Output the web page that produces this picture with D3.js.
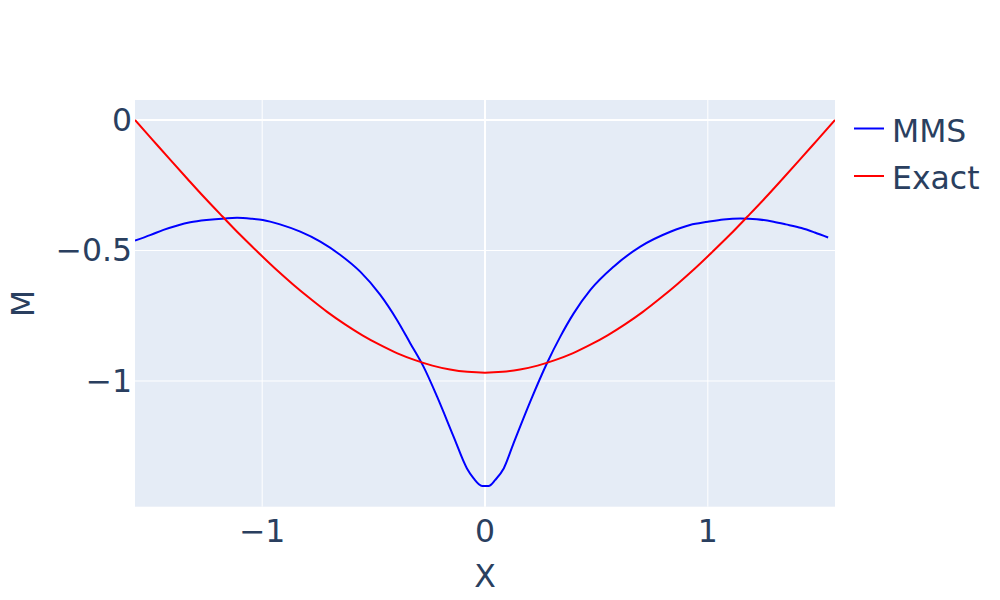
<!DOCTYPE html>
<html>
<head>
<meta charset="utf-8">
<script src="https://cdn.jsdelivr.net/npm/d3@7"></script>
<style>
  body { margin: 0; background: #fff; }
  text { font-family: "DejaVu Sans", Verdana, sans-serif; fill: #2a3f5f; }
</style>
</head>
<body>
<svg id="chart" width="1000" height="600"></svg>
<script>
// values
var mmsX = [-1.571, -1.50, -1.443, -1.38, -1.323, -1.25, -1.165, -1.113, -1.05, -0.997,
            -0.92, -0.829, -0.739, -0.649, -0.56, -0.47, -0.395, -0.335, -0.276, -0.215,
            -0.141, -0.081, -0.051, -0.013, 0.016, 0.046, 0.084, 0.128, 0.203, 0.278,
            0.338, 0.398, 0.473, 0.577, 0.697, 0.832, 0.92, 1.0, 1.07, 1.146,
            1.22, 1.295, 1.35, 1.42, 1.48, 1.540];
var mmsY = [-0.462, -0.440, -0.421, -0.404, -0.392, -0.383, -0.377, -0.375, -0.378, -0.383,
            -0.400, -0.428, -0.466, -0.517, -0.581, -0.670, -0.766, -0.856, -0.945, -1.060,
            -1.213, -1.335, -1.373, -1.402, -1.402, -1.379, -1.335, -1.239, -1.079, -0.932,
            -0.830, -0.741, -0.651, -0.562, -0.485, -0.428, -0.402, -0.390, -0.381, -0.377,
            -0.380, -0.390, -0.400, -0.414, -0.431, -0.450];

var exactX = [-1.571, -1.492, -1.414, -1.335, -1.257, -1.178, -1.100, -1.021, -0.942, -0.864,
              -0.785, -0.707, -0.628, -0.550, -0.471, -0.393, -0.314, -0.236, -0.157, -0.079,
              0, 0.079, 0.157, 0.236, 0.314, 0.393, 0.471, 0.550, 0.628, 0.707,
              0.785, 0.864, 0.942, 1.021, 1.100, 1.178, 1.257, 1.335, 1.414, 1.492, 1.571];
var exactY = [0, -0.076, -0.151, -0.226, -0.299, -0.370, -0.439, -0.505, -0.569, -0.628,
              -0.684, -0.736, -0.783, -0.825, -0.862, -0.894, -0.920, -0.941, -0.956, -0.965,
              -0.968, -0.965, -0.956, -0.941, -0.920, -0.894, -0.862, -0.825, -0.783, -0.736,
              -0.684, -0.628, -0.569, -0.505, -0.439, -0.370, -0.299, -0.226, -0.151, -0.076, 0];

var xTicks = [-1, 0, 1];
var yTicks = [0, -0.5, -1];

var seriesNames = ["MMS", "Exact"];
var seriesColors = ["blue", "red"];

var svg = d3.select("#chart");
var plotL = 135, plotT = 100, plotW = 700, plotH = 406.7;
var fontSize = "31.5px";

var x = d3.scaleLinear().domain([-1.5708, 1.5708]).range([plotL, plotL + plotW]);
var y = d3.scaleLinear().domain([-1.4816, 0.0766]).range([plotT + plotH, plotT]);

svg.append("rect")
    .attr("x", plotL).attr("y", plotT)
    .attr("width", plotW).attr("height", plotH)
    .attr("fill", "#e5ecf6");

// grid
var grid = svg.append("g");
grid.selectAll(".gx").data(xTicks).enter().append("line")
    .attr("x1", function(d) { return x(d); }).attr("x2", function(d) { return x(d); })
    .attr("y1", plotT).attr("y2", plotT + plotH)
    .attr("stroke", "#fff")
    .attr("stroke-width", function(d) { return d === 0 ? 2 : 1; });
grid.selectAll(".gy").data(yTicks).enter().append("line")
    .attr("y1", function(d) { return y(d); }).attr("y2", function(d) { return y(d); })
    .attr("x1", plotL).attr("x2", plotL + plotW)
    .attr("stroke", "#fff")
    .attr("stroke-width", function(d) { return d === 0 ? 2 : 1; });

var fmt = function(d) { return String(d).replace("-", "\u2212"); };

// tick labels
svg.append("g").selectAll("text").data(xTicks).enter().append("text")
    .attr("x", function(d) { return x(d); })
    .attr("y", 542)
    .attr("text-anchor", "middle")
    .style("font-size", fontSize)
    .text(fmt);
svg.append("g").selectAll("text").data(yTicks).enter().append("text")
    .attr("x", 132)
    .attr("y", function(d) { return y(d) + 11; })
    .attr("text-anchor", "end")
    .style("font-size", fontSize)
    .text(fmt);

// axis titles
svg.append("text")
    .attr("x", x(0)).attr("y", 587)
    .attr("text-anchor", "middle")
    .style("font-size", fontSize)
    .text("X");
svg.append("text")
    .attr("transform", "translate(33.5," + (plotT + plotH / 2) + ") rotate(-90)")
    .attr("text-anchor", "middle")
    .style("font-size", fontSize)
    .text("M");

// lines
var line = d3.line()
    .curve(d3.curveMonotoneX)
    .x(function(d) { return x(d[0]); })
    .y(function(d) { return y(d[1]); });

svg.append("clipPath").attr("id", "clip")
    .append("rect").attr("x", plotL).attr("y", plotT).attr("width", plotW).attr("height", plotH);

var series = [d3.zip(mmsX, mmsY), d3.zip(exactX, exactY)];
svg.append("g").attr("clip-path", "url(#clip)")
    .selectAll("path").data(series).enter().append("path")
    .attr("d", line)
    .attr("fill", "none")
    .attr("stroke", function(d, i) { return seriesColors[i]; })
    .attr("stroke-width", 2)
    .attr("stroke-linejoin", "round");

// legend
var legend = svg.append("g").selectAll("g").data(seriesNames).enter().append("g")
    .attr("transform", function(d, i) { return "translate(854," + (128.5 + i * 47.5) + ")"; });
legend.append("line")
    .attr("x1", 0).attr("x2", 30)
    .attr("stroke", function(d, i) { return seriesColors[i]; })
    .attr("stroke-width", 2);
legend.append("text")
    .attr("x", 38).attr("y", 13)
    .style("font-size", fontSize)
    .text(function(d) { return d; });
</script>
</body>
</html>
